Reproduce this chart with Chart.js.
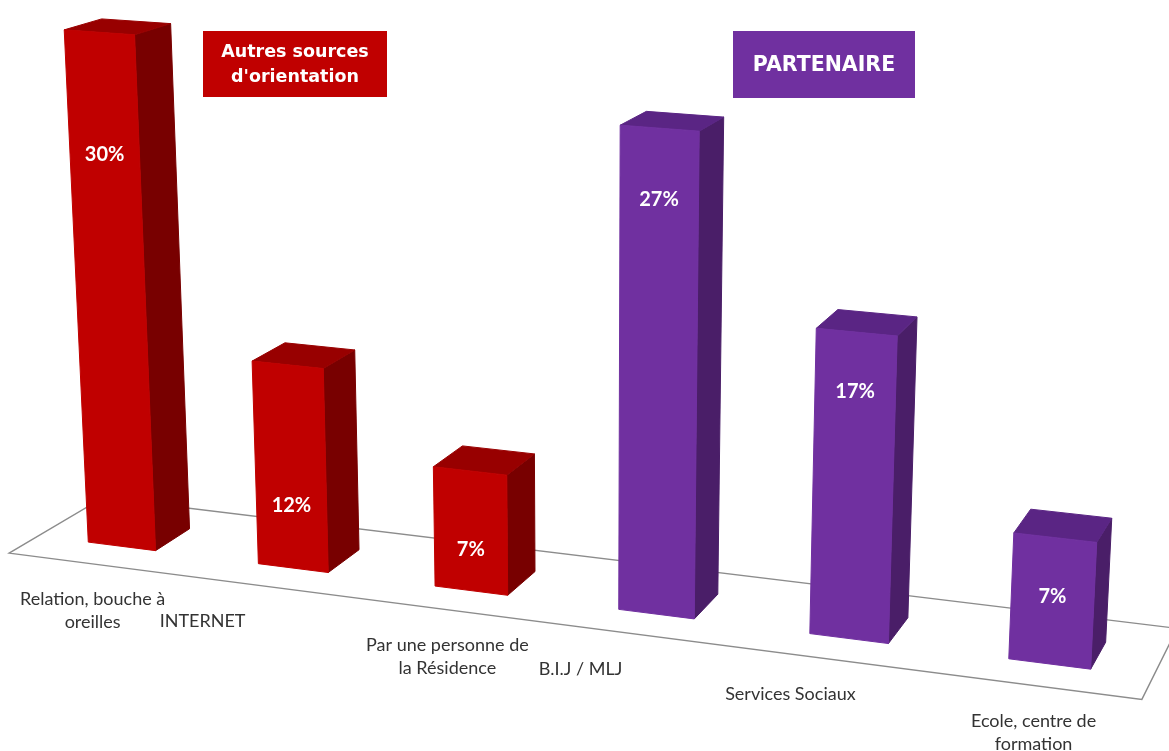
<!DOCTYPE html>
<html>
<head>
<meta charset="utf-8">
<script src="https://cdn.jsdelivr.net/npm/chart.js@4.4.1/dist/chart.umd.min.js"></script>
<style>
  html, body { margin: 0; padding: 0; background: #fff; }
</style>
</head>
<body>
<canvas id="chart" width="1169" height="751"></canvas>
<script>
const categories = [["Relation, bouche à", "oreilles"], ["INTERNET"], ["Par une personne de", "la Résidence"], ["B.I.J / MLJ"], ["Services Sociaux"], ["Ecole, centre de", "formation"]];
const values = [30, 12, 7, 27, 17, 7];
const groupOf = [0, 0, 0, 1, 1, 1];
const groupNames = [["Autres sources", "d'orientation"], ["PARTENAIRE"]];

// perspective camera: world x = category index, y = value, z = depth
const P = [165.8979, -0.9041429, 95.12339, 121.7957, 11.09076, -17.18461, -25.15851, 546.3464, -0.01872386, -0.00153909, 0.05543491];
const floorX = [-0.5, 5.5];
const floorZ = [-0.313, 0.728];

const faceColors = [
  { front: "#c00000", side: "#780000", top: "#980000" },
  { front: "#7030a0", side: "#4a1e68", top: "#5a2584" },
];
// where the % label sits inside each bar (in value units) and label x shifts
const valueLabelAt = [23.1, 3.72, 2.45, 23.2, 13.8, 3.75];
const labelShift = [-1, -65, -1, -56, -42, -3];

function project(X, Y, Z) {
  const w = P[8] * X + P[9] * Y + P[10] * Z + 1;
  return [(P[0] * X + P[1] * Y + P[2] * Z + P[3]) / w, (P[4] * X + P[5] * Y + P[6] * Z + P[7]) / w];
}

function poly(ctx, pts, color) {
  ctx.beginPath();
  pts.forEach((p, k) => (k ? ctx.lineTo(p[0], p[1]) : ctx.moveTo(p[0], p[1])));
  ctx.closePath();
  ctx.fillStyle = color;
  ctx.strokeStyle = color;
  ctx.lineWidth = 1;
  ctx.fill();
  ctx.stroke();
}

const bars3d = {
  id: "bars3d",
  beforeDatasetsDraw() {
    return false;
  },
  afterDraw(chart) {
    const ctx = chart.ctx;
    const xs = chart.scales.x, ys = chart.scales.y;
    const catPx = xs.getPixelForValue(1) - xs.getPixelForValue(0);
    const x0 = xs.getPixelForValue(0);

    // floor
    ctx.save();
    ctx.beginPath();
    [[floorX[0], floorZ[0]], [floorX[1], floorZ[0]], [floorX[1], floorZ[1]], [floorX[0], floorZ[1]]].forEach((c, k) => {
      const p = project(c[0], 0, c[1]);
      k ? ctx.lineTo(p[0], p[1]) : ctx.moveTo(p[0], p[1]);
    });
    ctx.closePath();
    ctx.fillStyle = "#fff";
    ctx.fill();
    ctx.strokeStyle = "#8c8c8c";
    ctx.lineWidth = 1.4;
    ctx.stroke();

    const meta = chart.getDatasetMeta(0);
    meta.data.forEach((el, i) => {
      const X = (el.x - x0) / catPx;
      const hw = el.width / 2 / catPx;
      const D = hw * 2;
      const yt = ys.getValueForPixel(el.y), yb = ys.getValueForPixel(el.base);
      const col = faceColors[groupOf[i]];
      poly(ctx, [project(X + hw, yb, 0), project(X + hw, yb, D), project(X + hw, yt, D), project(X + hw, yt, 0)], col.side);
      poly(ctx, [project(X - hw, yt, 0), project(X + hw, yt, 0), project(X + hw, yt, D), project(X - hw, yt, D)], col.top);
      poly(ctx, [project(X - hw, yb, 0), project(X + hw, yb, 0), project(X + hw, yt, 0), project(X - hw, yt, 0)], col.front);

      const lp = project(X, valueLabelAt[i], 0);
      ctx.fillStyle = "#fff";
      ctx.font = "bold 20px Lato";
      ctx.textAlign = "center";
      ctx.textBaseline = "middle";
      ctx.fillText(values[i] + "%", lp[0], lp[1]);

      // category label under the floor edge
      const ap = project(X, 0, floorZ[0]);
      ctx.fillStyle = "#333";
      ctx.font = "18px Lato";
      ctx.textBaseline = "alphabetic";
      categories[i].forEach((line, k) => ctx.fillText(line, ap[0] + labelShift[i], ap[1] + 41 + k * 23));
    });

    // legend boxes
    const boxes = [[203, 31, 184, 66, 17.5], [733, 31, 182, 67, 20.5]];
    boxes.forEach(([bx, by, bw, bh, fs], g) => {
      ctx.fillStyle = faceColors[g].front;
      ctx.fillRect(bx, by, bw, bh);
      ctx.fillStyle = "#fff";
      ctx.font = "bold " + fs + "px DejaVu Sans";
      ctx.textAlign = "center";
      ctx.textBaseline = "alphabetic";
      const lines = groupNames[g];
      const lh = 25;
      const startY = by + bh / 2 - ((lines.length - 1) * lh) / 2 + fs * 0.33;
      lines.forEach((t, k) => ctx.fillText(t, bx + bw / 2, startY + k * lh));
    });
    ctx.restore();
  },
};

new Chart(document.getElementById("chart"), {
  type: "bar",
  data: {
    labels: categories,
    datasets: [{ data: values, backgroundColor: groupOf.map((g) => faceColors[g].front), barPercentage: 0.4, categoryPercentage: 1 }],
  },
  options: {
    responsive: false,
    animation: false,
    layout: { padding: 0 },
    plugins: { legend: { display: false }, tooltip: { enabled: false } },
    scales: {
      x: { display: false },
      y: { display: false, min: 0, max: 30 },
    },
  },
  plugins: [bars3d],
});
</script>
</body>
</html>
